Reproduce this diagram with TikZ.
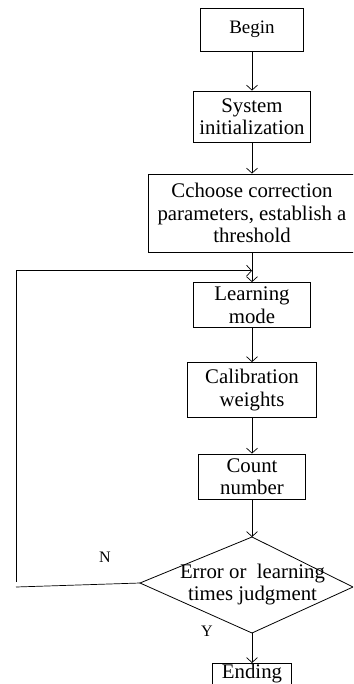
\documentclass[tikz,border=0pt]{standalone}
\usepackage{fontspec}
\setmainfont{Liberation Serif}
\usetikzlibrary{arrows.meta}
\begin{document}
\begin{tikzpicture}[x=1pt,y=-1pt,
  box/.style={draw, line width=0.8pt, inner sep=0pt, align=center, font=\fontsize{20.8}{22.5}\selectfont},
  conn/.style={line width=0.7pt, -{Straight Barb[length=5pt,width=11pt]}},
  plain/.style={line width=0.7pt},
  lbl/.style={font=\fontsize{16}{18}\selectfont, inner sep=0pt}]
\useasboundingbox (0,0) rectangle (353,684);
\clip (0,0) rectangle (353,684);
\node[box, minimum width=103pt, minimum height=43pt, font=\fontsize{19}{21}\selectfont] (begin) at (252,29.5) {Begin};
\node[box, minimum width=116.5pt, minimum height=51pt] (sys) at (252,116.5) {System\\initialization};
\node[box, minimum width=208pt, minimum height=78pt] (choose) at (252,213) {Cchoose correction\\parameters, establish a\\threshold};
\node[box, minimum width=117pt, minimum height=45pt] (learn) at (252,305) {Learning\\mode};
\node[box, minimum width=129pt, minimum height=55pt] (calib) at (252,390) {Calibration\\weights};
\node[box, minimum width=107pt, minimum height=45pt] (count) at (252,476.5) {Count\\number};
% decision diamond
\coordinate (dt) at (252,537);
\coordinate (dr) at (353,587);
\coordinate (db) at (252,633);
\coordinate (dl) at (140,583);
\draw[line width=0.8pt] (dt) -- (dr) -- (db) -- (dl) -- cycle;
\node[align=center, inner sep=0pt, font=\fontsize{20.8}{22}\selectfont] (judge) at (252.5,585) {Error or~ learning\\times judgment};
\node[draw, line width=0.8pt, inner sep=0pt, minimum width=79pt, text height=15pt, text depth=25pt, anchor=north, font=\fontsize{20.8}{22.5}\selectfont] (end) at (252,663) {Ending};
% connectors
\draw[conn] (begin) -- (sys);
\draw[conn] (sys) -- (choose);
\draw[conn] (choose) -- (learn);
\draw[conn] (learn) -- (calib);
\draw[conn] (calib) -- (count);
\draw[conn] (count) -- (dt);
\draw[conn] (db) -- (end);
% loop back (N)
\coordinate (n1) at (16,587);
\coordinate (n2) at (16,582);
\coordinate (loopend) at (252,270.7);
\draw[plain] (dl) -- (n1);
\draw[conn] (n2) |- (loopend);
\node[lbl] (nlab) at (105,557) {N};
\node[lbl] (ylab) at (207,631) {Y};
\end{tikzpicture}
\end{document}
